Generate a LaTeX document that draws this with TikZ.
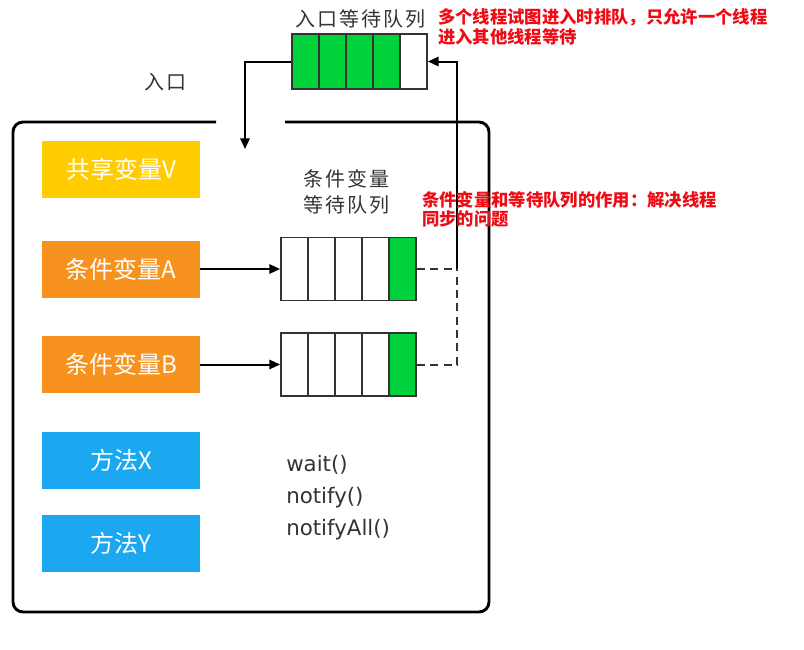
\documentclass[tikz,border=0pt]{standalone}
\usepackage{fontspec}
\setmainfont{DejaVu Sans}
\newfontfamily\cjk{Noto Sans CJK SC}
\newfontfamily\cjkwide[LetterSpace=10]{Noto Sans CJK SC}
\usetikzlibrary{arrows.meta,positioning,calc}
\definecolor{qgreen}{RGB}{0,210,60}
\definecolor{varyellow}{RGB}{255,204,0}
\definecolor{condorange}{RGB}{247,146,30}
\definecolor{methblue}{RGB}{27,168,240}
\definecolor{inkgray}{RGB}{51,51,51}
\definecolor{notered}{RGB}{240,10,20}
\tikzset{
  box/.style={minimum width=118.5pt,minimum height=42.75pt,inner sep=0pt,text=white,font=\cjk\fontsize{18}{20}\selectfont},
  cell/.style={draw=inkgray,line width=1.4pt,minimum width=20.25pt,minimum height=47.25pt,inner sep=0pt,fill=white},
  topcell/.style={cell,minimum height=41.25pt},
  lbl/.style={text=inkgray,font=\cjkwide\fontsize{15}{20}\selectfont,align=center,inner sep=0pt},
  note/.style={text=notered,font=\cjk\bfseries\fontsize{13}{14.5}\selectfont,align=left,anchor=west,inner sep=0pt},
  arr/.style={-{Triangle[length=8pt,width=7pt]},line width=1.5pt,draw=black},
  dashline/.style={line width=1.5pt,dash pattern=on 6pt off 4pt,draw=inkgray},
}
\begin{document}
\begin{tikzpicture}[x=0.75pt,y=-0.75pt]
  \useasboundingbox (0,0) rectangle (804,650);

  % monitor frame with entry gap
  \draw[line width=2.2pt,rounded corners=7.5pt] (216,122) -| (13,612) -| (489,122) -- (285,122);

  % left blocks
  \node[box,fill=varyellow] (v) at (121,169.5) {共享变量V};
  \node[box,fill=condorange] (a) at (121,269) {条件变量A};
  \node[box,fill=condorange] (b) at (121,364.5) {条件变量B};
  \node[box,fill=methblue] (x) at (121,460.5) {方法X};
  \node[box,fill=methblue] (y) at (121,543.5) {方法Y};

  % entry queue
  \foreach \i in {0,...,3}
    \node[topcell,fill=qgreen] (t\i) at ({305.5+27*\i},61.5) {};
  \node[topcell] (t4) at (413.5,61.5) {};
  \node[lbl] (tlbl) at (360,19) {入口等待队列};

  % condition queues
  \foreach \i in {0,...,3} {
    \node[cell] (qa\i) at ({294.5+27*\i},269) {};
    \node[cell] (qb\i) at ({294.5+27*\i},364.5) {};
  }
  \node[cell,fill=qgreen] (qa4) at (402.5,269) {};
  \node[cell,fill=qgreen] (qb4) at (402.5,364.5) {};
  \node[lbl] (qlbl) at (346,192) {条件变量\\等待队列};

  \node[lbl] (entlbl) at (165,82) {入口};

  % connectors
  \coordinate (entry) at (245,149);
  \coordinate (ret) at (457,269);
  \draw[arr] (t0.west) -| (entry);
  \draw[arr] (ret) |- (t4.east);
  \draw[dashline] (qa4.east) -- (ret);
  \draw[dashline] (qb4.east) -| (ret);
  \draw[arr] (a.east) -- (qa0.west);
  \draw[arr] (b.east) -- (qb0.west);

  % methods
  \node[anchor=west,align=left,inner sep=0pt,text=inkgray,font=\fontsize{16}{24}\selectfont] (m) at (286,498) {wait()\\notify()\\notifyAll()};

  % notes
  \node[note] (n1) at (438,27) {多个线程试图进入时排队，只允许一个线程\\进入其他线程等待};
  \node[note] (n2) at (422,209) {条件变量和等待队列的作用：解决线程\\同步的问题};
\end{tikzpicture}
\end{document}
